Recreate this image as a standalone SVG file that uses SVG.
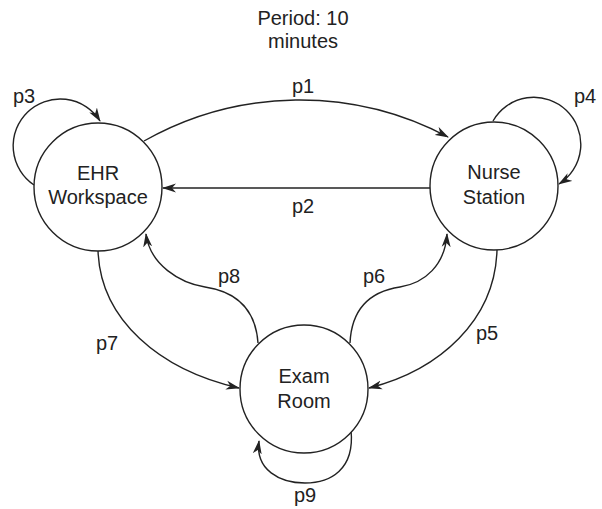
<svg xmlns="http://www.w3.org/2000/svg" width="602" height="509" viewBox="0 0 602 509">
<style>
text{font-family:"Liberation Sans",Arial,sans-serif;font-size:20px;fill:#222;text-anchor:middle}
.node{fill:#fff;stroke:#222;stroke-width:1.4}
.edge{fill:none;stroke:#222;stroke-width:1.4;marker-end:url(#arr)}
</style>
<defs>
<marker id="arr" viewBox="0 0 14 10" refX="13" refY="5" markerWidth="14" markerHeight="10" markerUnits="userSpaceOnUse" orient="auto">
<path d="M0,0.5 L14,5 L0,9.5 L4,5 z" fill="#222"/>
</marker>
</defs>
<rect width="602" height="509" fill="#fff"/>
<text x="303" y="25">Period: 10</text>
<text x="303" y="48">minutes</text>
<g id="connectors">
<path class="edge" d="M144,141 A316,316 0 0 1 448,137"/>
<path class="edge" d="M430,188 L163,188"/>
<path class="edge" d="M34,185 A47,47 0 1 1 100,121"/>
<path class="edge" d="M493,121 A47,47 0 1 1 559,184"/>
<path class="edge" d="M497,250 C495,320 440,370 369,388"/>
<path class="edge" d="M98,250 C100,320 160,370 239,388"/>
<path class="edge" d="M258,343 C255,300 225,290 205,287 C180,283 150,265 146,234"/>
<path class="edge" d="M350,343 C352,300 380,290 400,287 C425,283 445,265 447,234"/>
<path class="edge" d="M351,430 C355,470 330,483 305,483 C280,483 255,470 259,441"/>
<text x="303" y="93">p1</text>
<text x="303" y="213">p2</text>
<text x="24" y="103">p3</text>
<text x="585" y="103">p4</text>
<text x="487" y="340">p5</text>
<text x="374" y="283">p6</text>
<text x="107" y="350">p7</text>
<text x="229" y="283">p8</text>
<text x="305" y="502">p9</text>
</g>
<g id="ehr">
<circle class="node" cx="98" cy="187" r="64"/>
<text x="98" y="180">EHR</text>
<text x="98" y="204">Workspace</text>
</g>
<g id="nurse">
<circle class="node" cx="494" cy="186" r="64"/>
<text x="494" y="179">Nurse</text>
<text x="494" y="204">Station</text>
</g>
<g id="exam">
<circle class="node" cx="304" cy="389" r="64"/>
<text x="304" y="383">Exam</text>
<text x="304" y="408">Room</text>
</g>
</svg>
